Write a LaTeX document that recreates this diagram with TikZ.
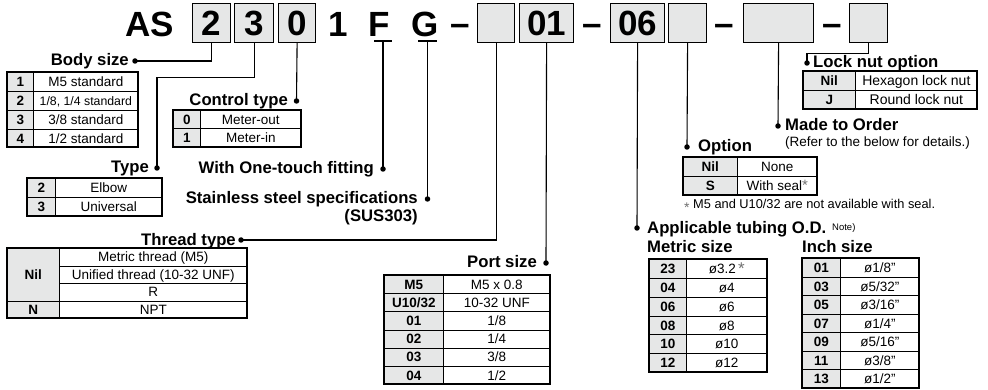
\documentclass[tikz,border=0pt]{standalone}
\usepackage{fontspec}
\setmainfont{Liberation Sans}
\usepackage{graphicx}
\definecolor{boxgray}{HTML}{E6E7E7}
\definecolor{stargray}{HTML}{707070}
\tikzset{
  hdr/.style={font=\fontsize{35}{35}\selectfont\bfseries, inner sep=0, anchor=base},
  hdash/.style={font=\fontsize{35}{35}\selectfont\bfseries, inner sep=0, anchor=base},
  hbox/.style={draw, line width=1.2pt, fill=boxgray, anchor=north west, inner sep=0,
    text height=25pt, text depth=0pt, font=\fontsize{35}{35}\selectfont\bfseries},
  lbl/.style={font=\fontsize{16.7}{18}\selectfont\bfseries, inner sep=0},
  note/.style={font=\fontsize{13.5}{15}\selectfont, inner sep=0},
  keycell/.style={draw, line width=0.7pt, fill=boxgray, anchor=north west, inner sep=0,
    text height=9.6pt, text depth=0pt, font=\fontsize{13.5}{13.5}\selectfont\bfseries},
  valcell/.style={draw, line width=0.7pt, fill=white, anchor=north west, inner sep=0,
    text height=9.6pt, text depth=0pt, font=\fontsize{13.5}{13.5}\selectfont},
  frame/.style={line width=1.2pt},
  conn/.style={line width=1.1pt},
  dotn/.style={circle, fill, inner sep=0, minimum size=5.5pt},
}
\newcommand\trow[8]{%
  \node[keycell, minimum width={#3-#2}, minimum height={#6-#5}] (#1k) at (#2,#5) {#7};
  \node[valcell, minimum width={#4-#3}, minimum height={#6-#5}] (#1v) at (#3,#5) {#8};}
\newcommand\gstar[2]{{\color{stargray}\raisebox{#1}{\fontsize{#2}{#2}\selectfont *}}}
\begin{document}
\begin{tikzpicture}[x=1pt,y=-1pt]
\useasboundingbox (0,0) rectangle (988,390);
% ---------- header ----------
\node[hdr] (tAS) at (150,37) {AS};
\node[hbox, minimum width=38, minimum height=39] (b1) at (192,3) {2};
\node[hbox, minimum width=39, minimum height=39] (b2) at (234,3) {3};
\node[hbox, minimum width=37, minimum height=39] (b3) at (278,3) {0};
\node[hdr] (t1) at (338,37) {1};
\node[hdr] (tF) at (379,37) {F};
\node[hdr] (tG) at (425,37) {G};
\node[hdash] (d1) at (460,36) {–};
\node[hbox, minimum width=37, minimum height=39] (b4) at (477,3) {};
\node[hbox, minimum width=54, minimum height=39] (b5) at (519,3) {01};
\node[hdash] (d2) at (592,36) {–};
\node[hbox, minimum width=54, minimum height=39] (b6) at (610,3) {06};
\node[hbox, minimum width=38, minimum height=39] (b7) at (668,3) {};
\node[hdash] (d3) at (724,36) {–};
\node[hbox, minimum width=70, minimum height=39] (b8) at (743,3) {};
\node[hdash] (d4) at (832,36) {–};
\node[hbox, minimum width=38, minimum height=39] (b9) at (849,3) {};
% ticks under F and G
\coordinate (Ftick) at (383,41);
\coordinate (Gtick) at (427.5,41);
\draw[conn] (374,41) -- (392,41);
\draw[conn] (418,41) -- (437,41);
% ---------- dots ----------
\node[dotn] (dBody) at (135,61) {};
\node[dotn] (dType) at (157,168) {};
\node[dotn] (dCtrl) at (296.5,101) {};
\node[dotn] (dF) at (383,169) {};
\node[dotn] (dG) at (427.5,199) {};
\node[dotn] (dThr) at (241,240) {};
\node[dotn] (dPort) at (546,263) {};
\node[dotn] (dTub) at (637,228) {};
\node[dotn] (dOpt) at (687,147) {};
\node[dotn] (dMTO) at (778,126) {};
\node[dotn] (dLock) at (807,63) {};
% ---------- connectors ----------
\draw[conn] (b1.south) |- (dBody.center);
\draw[conn] (b2.south) -- ++(0,34) -| (dType.center);
\draw[conn] (b3.south) -- (dCtrl.center);
\draw[conn] (Ftick) -- (dF.center);
\draw[conn] (Gtick) -- (dG.center);
\draw[conn] (b4.south) |- (dThr.center);
\draw[conn] (b5.south) -- (dPort.center);
\draw[conn] (b6.south) -- (dTub.center);
\draw[conn] (b7.south) -- (dOpt.center);
\draw[conn] (b8.south) -- (dMTO.center);
\draw[conn] (b9.south) -- ++(0,10) -| (dLock.center);
% ---------- labels ----------
\node[lbl, anchor=base east] (lBody) at (129,66) {Body size};
\node[lbl, anchor=base east] (lType) at (149,173) {Type};
\node[lbl, anchor=base east] (lCtrl) at (288,106) {Control type};
\node[lbl, anchor=base east] (lF) at (374,174) {With One-touch fitting};
\node[lbl, anchor=base east] (lG) at (418,204) {Stainless steel specifications};
\node[lbl, anchor=base east] (lG2) at (418,222) {(SUS303)};
\node[lbl, anchor=base east] (lThr) at (236,245) {Thread type};
\node[lbl, anchor=base east] (lPort) at (537,268) {Port size};
\node[lbl, anchor=base west] (lTub) at (647,234) {Applicable tubing O.D.};
\node[font=\fontsize{9.5}{10}\selectfont, inner sep=0, anchor=base west] (lNote) at (832,230) {Note)};
\node[lbl, anchor=base west] (lMet) at (647,252) {Metric size};
\node[lbl, anchor=base west] (lInch) at (802,252) {Inch size};
\node[lbl, anchor=base west] (lOpt) at (698,152) {Option};
\node[lbl, anchor=base west] (lMTO) at (785,131) {Made to Order};
\node[note, anchor=base west] (lMTO2) at (785,147) {(Refer to the below for details.)};
\node[lbl, anchor=base west] (lLock) at (813,68) {Lock nut option};
\node[note, font=\fontsize{12.8}{14}\selectfont, anchor=base west] (lFoot) at (684,209) {\gstar{-0.25em}{14} M5 and U10/32 are not available with seal.};
% ---------- Body size table ----------
\trow{bs1}{7}{33}{138}{72}{91}{1}{M5 standard}
\trow{bs2}{7}{33}{138}{91}{110}{2}{{\fontsize{12.3}{13}\selectfont 1/8, 1/4 standard}}
\trow{bs3}{7}{33}{138}{110}{129}{3}{3/8 standard}
\trow{bs4}{7}{33}{138}{129}{147}{4}{1/2 standard}
\draw[frame] (7,72) rectangle (138,147);
% ---------- Control type table ----------
\trow{ct1}{173}{200}{301}{110}{128.5}{0}{Meter-out}
\trow{ct2}{173}{200}{301}{128.5}{147}{1}{Meter-in}
\draw[frame] (173,110) rectangle (301,147);
% ---------- Type table ----------
\trow{ty1}{27}{55}{162}{178}{197}{2}{Elbow}
\trow{ty2}{27}{55}{162}{197}{216}{3}{Universal}
\draw[frame] (27,178) rectangle (162,216);
% ---------- Thread type table ----------
\node[keycell, minimum width=52, minimum height=52.5] (thNil) at (7,248) {Nil};
\node[valcell, minimum width=188, minimum height=17.5] (th1) at (59,248) {Metric thread (M5)};
\node[valcell, minimum width=188, minimum height=17.5] (th2) at (59,265.5) {Unified thread (10-32 UNF)};
\node[valcell, minimum width=188, minimum height=17.5] (th3) at (59,283) {R};
\trow{thN}{7}{59}{247}{300.5}{318}{N}{NPT}
\draw[frame] (7,248) rectangle (247,318);
% ---------- Port size table ----------
\trow{ps1}{384}{443}{550}{275}{293.2}{M5}{M5 x 0.8}
\trow{ps2}{384}{443}{550}{293.2}{311.3}{U10/32}{10-32 UNF}
\trow{ps3}{384}{443}{550}{311.3}{329.5}{01}{1/8}
\trow{ps4}{384}{443}{550}{329.5}{347.7}{02}{1/4}
\trow{ps5}{384}{443}{550}{347.7}{365.8}{03}{3/8}
\trow{ps6}{384}{443}{550}{365.8}{384}{04}{1/2}
\draw[frame] (384,275) rectangle (550,384);
% ---------- Metric tubing table ----------
\trow{ms1}{649}{686}{767}{259}{277.8}{23}{ø3.2\,\gstar{-0.1em}{17}}
\trow{ms2}{649}{686}{767}{277.8}{296.7}{04}{ø4}
\trow{ms3}{649}{686}{767}{296.7}{315.5}{06}{ø6}
\trow{ms4}{649}{686}{767}{315.5}{334.3}{08}{ø8}
\trow{ms5}{649}{686}{767}{334.3}{353.2}{10}{ø10}
\trow{ms6}{649}{686}{767}{353.2}{372}{12}{ø12}
\draw[frame] (649,259) rectangle (767,372);
% ---------- Inch tubing table ----------
\trow{is1}{802}{840}{919}{258}{276.6}{01}{ø1/8"}
\trow{is2}{802}{840}{919}{276.6}{295.1}{03}{ø5/32"}
\trow{is3}{802}{840}{919}{295.1}{313.7}{05}{ø3/16"}
\trow{is4}{802}{840}{919}{313.7}{332.3}{07}{ø1/4"}
\trow{is5}{802}{840}{919}{332.3}{350.9}{09}{ø5/16"}
\trow{is6}{802}{840}{919}{350.9}{369.4}{11}{ø3/8"}
\trow{is7}{802}{840}{919}{369.4}{388}{13}{ø1/2"}
\draw[frame] (802,258) rectangle (919,388);
% ---------- Option table ----------
\trow{op1}{683}{737}{817}{157}{176}{Nil}{None}
\trow{op2}{683}{737}{817}{176}{195}{S}{With seal\gstar{0em}{15}}
\draw[frame] (683,157) rectangle (817,195);
% ---------- Lock nut table ----------
\trow{ln1}{803}{855}{977}{71}{90}{Nil}{{\fontsize{14}{14}\selectfont Hexagon lock nut}}
\trow{ln2}{803}{855}{977}{90}{109}{J}{{\fontsize{14}{14}\selectfont Round lock nut}}
\draw[frame] (803,71) rectangle (977,109);
\end{tikzpicture}
\end{document}
